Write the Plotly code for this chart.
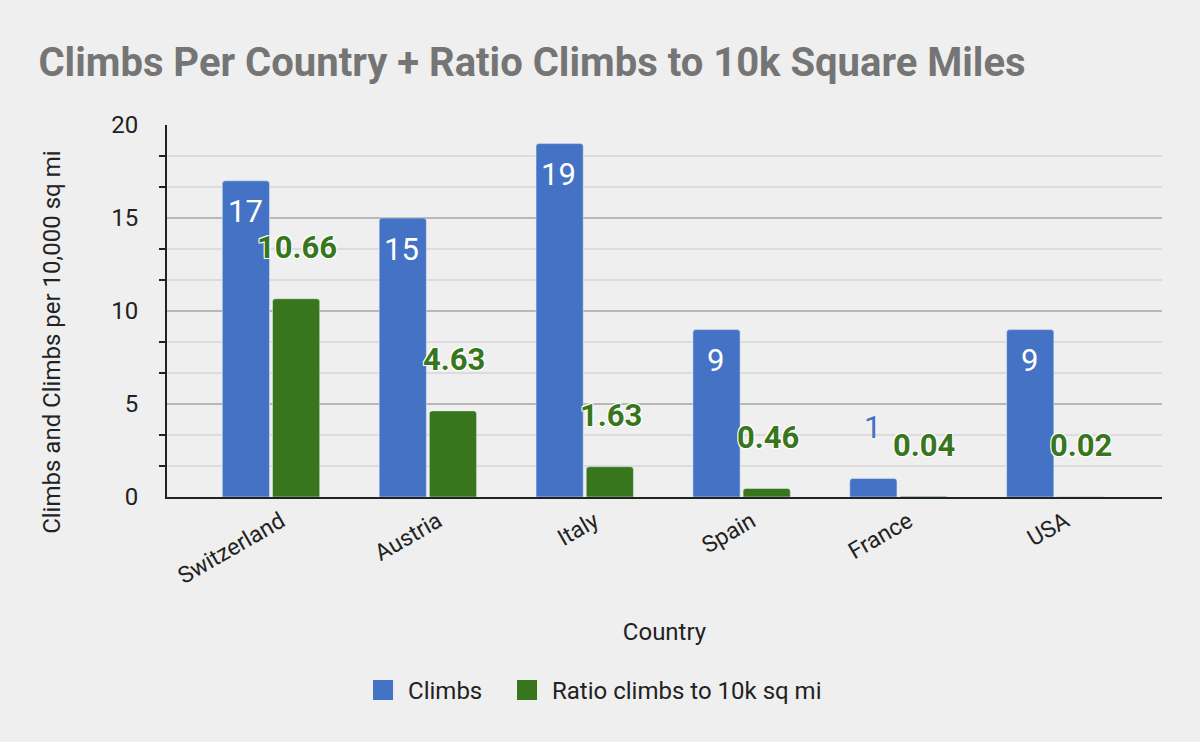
import plotly.graph_objects as go

countries = ["Switzerland", "Austria", "Italy", "Spain", "France", "USA"]
climbs = [17, 15, 19, 9, 1, 9]
ratio = [10.66, 4.63, 1.63, 0.46, 0.04, 0.02]
ratio_labels = ["10.66", "4.63", "1.63", "0.46", "0.04", "0.02"]

BLUE = "#4472c4"
GREEN = "#38761d"
BG = "#efefef"
FONT = "Roboto"
INK = "#222222"

fig = go.Figure()

fig.add_trace(go.Bar(
    x=countries, y=climbs, name="Climbs", showlegend=False,
    marker=dict(color=BLUE, cornerradius=3),
))
fig.add_trace(go.Bar(
    x=countries, y=ratio, name="Ratio climbs to 10k sq mi", showlegend=False,
    marker=dict(color=GREEN, cornerradius=3),
))

# legend proxies so the swatches come out as big squares, one legend each
for name, col, leg in [("Climbs", BLUE, "legend"), ("Ratio climbs to 10k sq mi", GREEN, "legend2")]:
    fig.add_trace(go.Scatter(
        x=[None], y=[None], mode="markers", name=name, legend=leg,
        marker=dict(symbol="square", size=16, color=col, line=dict(color=col, width=4)),
    ))

# blue labels: white inside the bar top, or blue above a bar too short to hold it
for c, v in zip(countries, climbs):
    inside = v > 2
    fig.add_annotation(
        x=c, y=v, text=str(v), showarrow=False, xshift=-26,
        yshift=-31 if inside else 51,
        font=dict(family=FONT, size=31, color="#ffffff" if inside else BLUE),
    )

# green value labels float above their bars with a light halo
halo = "1px 1px 0 #fff, -1px -1px 0 #fff, 1px -1px 0 #fff, -1px 1px 0 #fff"
for c, v, t in zip(countries, ratio, ratio_labels):
    fig.add_annotation(
        x=c, y=v, text=t, showarrow=False, xshift=26, yshift=51,
        font=dict(family=FONT, size=31, color=GREEN, weight="bold", shadow=halo),
    )

# y axis title, centred on the chart area rather than the plot area
fig.add_annotation(
    xref="paper", yref="paper", x=-0.1317, y=0.417, textangle=-90,
    text="Climbs and Climbs per 10,000 sq mi", showarrow=False,
    font=dict(family=FONT, size=24, color=INK),
)

legend_style = dict(
    orientation="h", xanchor="left", y=-0.52, yanchor="middle",
    font=dict(family=FONT, size=24, color=INK),
    itemsizing="trace", itemwidth=40, bgcolor="rgba(0,0,0,0)",
)

fig.update_layout(
    width=1200, height=742,
    paper_bgcolor=BG, plot_bgcolor=BG,
    font=dict(family=FONT, size=24, color=INK),
    title=dict(
        text="<b>Climbs Per Country + Ratio Climbs to 10k Square Miles</b>",
        x=0.032, xanchor="left", y=0.916, yanchor="middle",
        font=dict(family=FONT, size=40, color="#757575"),
    ),
    margin=dict(l=167, r=38, t=125, b=245),
    barmode="group", bargap=0.36, bargroupgap=0.06,
    showlegend=True,
    legend=dict(x=0.192, **legend_style),
    legend2=dict(x=0.3367, **legend_style),
    xaxis=dict(
        type="category", range=[-0.663, 5.68],
        tickangle=-30, showgrid=False,
        showline=True, linecolor=INK, linewidth=2,
        ticks="", ticklabelshift=10, tickfont=dict(size=23, color=INK),
        title=dict(text="Country", standoff=34, font=dict(size=24, color=INK)),
    ),
    yaxis=dict(
        range=[0, 20], dtick=5, tick0=0,
        showgrid=True, gridcolor="#b7b7b7", gridwidth=1.5,
        showline=True, linecolor=INK, linewidth=2,
        ticks="", zeroline=False,
        ticklabelstandoff=22,
        tickfont=dict(size=24, color=INK),
        minor=dict(dtick=5 / 3, tick0=0, showgrid=True, gridcolor="#dcdcdc",
                   gridwidth=1.5, ticks="outside", ticklen=6, tickcolor=INK,
                   tickwidth=2),
    ),
)

# the page body has a default margin; drop it so the figure fills the window
fig.write_html("out.html", config={"displayModeBar": False},
               post_script="document.body.style.margin='0';")
